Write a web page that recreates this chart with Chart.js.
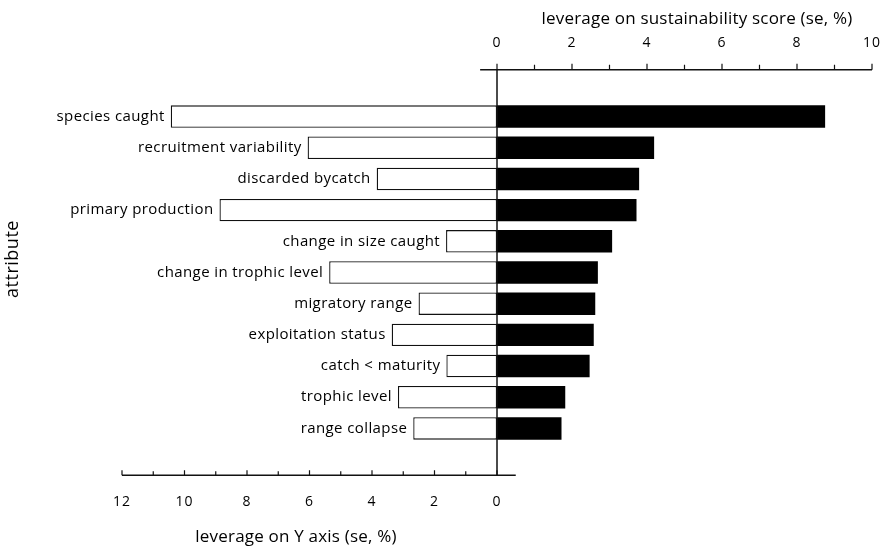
<!DOCTYPE html>
<html>
<head>
<meta charset="utf-8">
<script src="https://cdn.jsdelivr.net/npm/chart.js@4.4.0/dist/chart.umd.min.js"></script>
<style>
body { margin: 0; background: #fff; }
#wrap { width: 881px; height: 546px; }
</style>
</head>
<body>
<div id="wrap"><canvas id="myChart"></canvas></div>
<script>
'use strict'

let attributes = [
    'species caught',
    'recruitment variability',
    'discarded bycatch',
    'primary production',
    'change in size caught',
    'change in trophic level',
    'migratory range',
    'exploitation status',
    'catch < maturity',
    'trophic level',
    'range collapse'
];

// right side, black bars (top axis)
let sustainLeverage = [8.75, 4.19, 3.79, 3.72, 3.07, 2.69, 2.62, 2.58, 2.47, 1.82, 1.72];
// left side, white bars (bottom axis)
let yAxisLeverage = [10.44, 6.06, 3.85, 8.88, 1.63, 5.37, 2.51, 3.37, 1.62, 3.17, 2.68];

let topTicks = [0, 2, 4, 6, 8, 10];
let bottomTicks = [0, 2, 4, 6, 8, 10, 12];

const fontFamily = '"Open Sans", sans-serif';

const axesPlugin = {
    id: 'axesPlugin',
    afterDatasetsDraw(chart) {
        const ctx = chart.ctx;
        const xL = chart.scales.xL;
        const xR = chart.scales.xR;
        const yS = chart.scales.y;
        const catH = yS.getPixelForValue(1) - yS.getPixelForValue(0);
        const topY = chart.chartArea.top - catH;
        const botY = chart.chartArea.bottom + catH;
        const zeroX = xR.getPixelForValue(0);

        ctx.save();
        ctx.strokeStyle = '#111';
        ctx.lineWidth = 1.5;

        // top axis
        ctx.beginPath();
        ctx.moveTo(xR.getPixelForValue(-0.45), topY);
        ctx.lineTo(xR.getPixelForValue(10), topY);
        // bottom axis
        ctx.moveTo(xL.getPixelForValue(12), botY);
        ctx.lineTo(xL.getPixelForValue(-0.6), botY);
        // zero line
        ctx.moveTo(zeroX, topY);
        ctx.lineTo(zeroX, botY);
        ctx.stroke();

        ctx.lineWidth = 1.2;
        ctx.beginPath();
        for (let v = 0; v <= 10; v++) {
            let px = xR.getPixelForValue(v);
            let len = v % 2 === 0 ? 6 : 5;
            ctx.moveTo(px, topY);
            ctx.lineTo(px, topY - len);
        }
        for (let v = 0; v <= 12; v++) {
            let px = xL.getPixelForValue(v);
            let len = v % 2 === 0 ? 5 : 4;
            ctx.moveTo(px, botY);
            ctx.lineTo(px, botY - len);
        }
        ctx.stroke();

        ctx.fillStyle = '#000';
        ctx.font = '14px ' + fontFamily;
        ctx.letterSpacing = '1px';
        ctx.textAlign = 'center';
        ctx.textBaseline = 'middle';
        for (let i = 0; i < topTicks.length; i++) {
            ctx.fillText(String(topTicks[i]), xR.getPixelForValue(topTicks[i]), topY - 27);
        }
        for (let i = 0; i < bottomTicks.length; i++) {
            ctx.fillText(String(bottomTicks[i]), xL.getPixelForValue(bottomTicks[i]), botY + 27);
        }

        // category labels next to the white bars
        ctx.font = '15px ' + fontFamily;
        ctx.letterSpacing = '0.4px';
        ctx.textAlign = 'right';
        for (let i = 0; i < attributes.length; i++) {
            ctx.fillText(attributes[i], xL.getPixelForValue(yAxisLeverage[i]) - 6, yS.getPixelForValue(i));
        }

        // axis titles
        ctx.font = '17px ' + fontFamily;
        ctx.letterSpacing = '0.2px';
        ctx.textAlign = 'center';
        ctx.fillText('leverage on sustainability score (se, %)', 697, 19);
        ctx.fillText('leverage on Y axis (se, %)', 296, 537);

        ctx.font = '18px ' + fontFamily;
        ctx.letterSpacing = '0.5px';
        ctx.translate(13, 259);
        ctx.rotate(-Math.PI / 2);
        ctx.fillText('attribute', 0, 0);
        ctx.restore();
    }
};

let ctx = document.getElementById('myChart').getContext('2d');
let myChart = new Chart(ctx, {
    type: 'bar',
    data: {
        labels: attributes,
        datasets: [{
            label: 'leverage on Y axis',
            data: yAxisLeverage,
            xAxisID: 'xL',
            backgroundColor: '#fff',
            borderColor: '#111',
            borderWidth: 1.3,
            borderSkipped: false
        }, {
            label: 'leverage on sustainability score',
            data: sustainLeverage,
            xAxisID: 'xR',
            backgroundColor: '#000',
            borderWidth: 0
        }]
    },
    options: {
        indexAxis: 'y',
        responsive: true,
        maintainAspectRatio: false,
        animation: false,
        grouped: false,
        barPercentage: 0.72,
        categoryPercentage: 1,
        layout: {
            padding: { left: 122, right: 9, top: 101, bottom: 102 }
        },
        plugins: {
            legend: { display: false },
            tooltip: { enabled: false }
        },
        scales: {
            y: { display: false, offset: true },
            xL: { type: 'linear', display: false, reverse: true, min: -12, max: 12 },
            xR: { type: 'linear', display: false, min: -10, max: 10 }
        }
    },
    plugins: [axesPlugin]
});
</script>
</body>
</html>
